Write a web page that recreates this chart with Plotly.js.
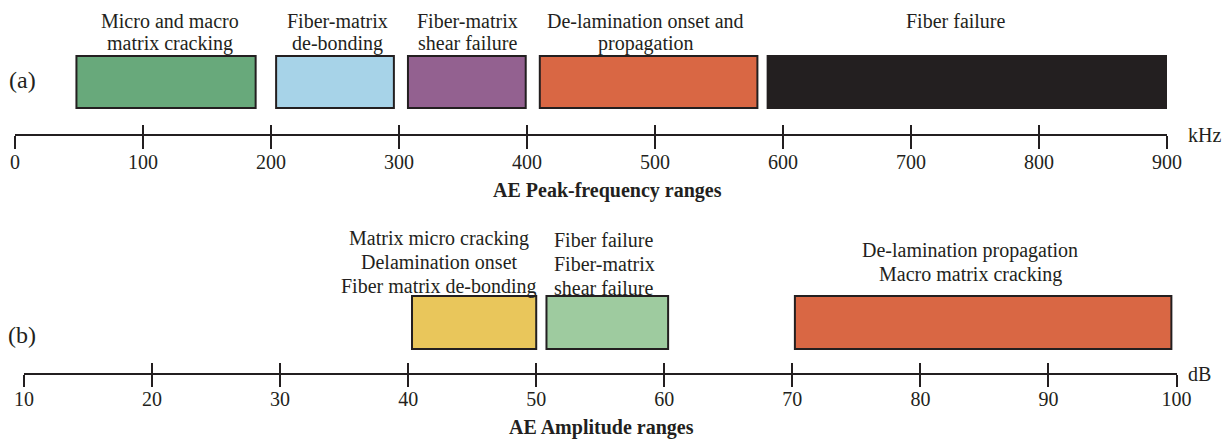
<!DOCTYPE html>
<html>
<head>
<meta charset="utf-8">
<script src="https://cdn.plot.ly/plotly-3.0.1.min.js"></script>
<style>
  html, body { margin: 0; padding: 0; background: #ffffff; }
  #chart { width: 1228px; height: 440px; }
</style>
</head>
<body>
<div id="chart"></div>
<script>
// (a) AE peak-frequency ranges, kHz
const freqTicks = [0, 100, 200, 300, 400, 500, 600, 700, 800, 900];
const freqStart = [48, 204, 307, 410, 588];
const freqEnd = [188, 296, 399, 580, 900];
const freqLabels = [
  ["Micro and macro", "matrix cracking"],
  ["Fiber-matrix", "de-bonding"],
  ["Fiber-matrix", "shear failure"],
  ["De-lamination onset and", "propagation"],
  ["Fiber failure"]
];
const freqColors = ["#68a97b", "#a7d3e8", "#936190", "#d96744", "#231f20"];

// (b) AE amplitude ranges, dB
const ampTicks = [10, 20, 30, 40, 50, 60, 70, 80, 90, 100];
const ampStart = [40.3, 50.8, 70.2];
const ampEnd = [50, 60.3, 99.6];
const ampLabels = [
  ["Matrix micro cracking", "Delamination onset", "Fiber matrix de-bonding"],
  ["Fiber failure", "Fiber-matrix", "shear failure"],
  ["De-lamination propagation", "Macro matrix cracking"]
];
const ampColors = ["#e9c65b", "#9ecb9f", "#d96744"];

const W = 1228, H = 440;
const INK = "#231f20";
const SERIF = "Liberation Serif, Times New Roman, serif";

const axisYTop = 135, axisYBot = 373.5;
const pos = px => 1 - px / H;

// each scale line runs only across its own span of the page
function baseAxis(ticks, pxFrom, pxTo, yPx) {
  return {
    range: [ticks[0], ticks[ticks.length - 1]],
    domain: [pxFrom / W, pxTo / W],
    anchor: "free", position: pos(yPx), side: "bottom",
    showgrid: false, zeroline: false, fixedrange: true,
    tickmode: "array", tickvals: ticks, ticktext: ticks.map(String),
    tickwidth: 2, tickcolor: INK
  };
}
// tick marks only (no line, no labels)
function tickOnly(ticks, pxFrom, pxTo, yPx, dir, len) {
  return Object.assign(baseAxis(ticks, pxFrom, pxTo, yPx), {
    showline: false, showticklabels: false, ticks: dir, ticklen: len
  });
}

const layout = {
  width: W, height: H,
  margin: {l: 0, r: 0, t: 0, b: 0},
  paper_bgcolor: "#ffffff", plot_bgcolor: "rgba(0,0,0,0)",
  showlegend: false,
  font: {family: SERIF, color: INK, size: 20},
  yaxis: {range: [H, 0], visible: false, fixedrange: true, domain: [0, 1]},
  // labelled scale lines
  xaxis: Object.assign(baseAxis(freqTicks, 15, 1167, axisYTop), {
    showline: true, linewidth: 2, linecolor: INK,
    ticks: "outside", ticklen: 9,
    tickfont: {family: SERIF, size: 20, color: INK}
  }),
  xaxis2: Object.assign(baseAxis(ampTicks, 24, 1176.5, axisYBot), {
    showline: true, linewidth: 2, linecolor: INK,
    ticks: "outside", ticklen: 7,
    tickfont: {family: SERIF, size: 20, color: INK}
  }),
  // tick marks crossing each line
  xaxis3: tickOnly(freqTicks, 15, 1167, axisYTop, "inside", 10),
  xaxis4: tickOnly(ampTicks, 24, 1176.5, axisYBot, "inside", 11),
  xaxis5: tickOnly(freqTicks, 15, 1167, axisYTop, "outside", 13),
  xaxis6: tickOnly(ampTicks, 24, 1176.5, axisYBot, "outside", 12),
  shapes: [],
  annotations: []
};

// range boxes
const topBox = [56, 108], botBox = [296, 349];
freqStart.forEach((s, i) => {
  layout.shapes.push({
    type: "rect", xref: "x", yref: "y", x0: s, x1: freqEnd[i], y0: topBox[0], y1: topBox[1],
    fillcolor: freqColors[i], line: {color: INK, width: 2}, layer: "above"
  });
});
ampStart.forEach((s, i) => {
  layout.shapes.push({
    type: "rect", xref: "x2", yref: "y", x0: s, x1: ampEnd[i], y0: botBox[0], y1: botBox[1],
    fillcolor: ampColors[i], line: {color: INK, width: 2}, layer: "above"
  });
});

function txt(text, xref, x, y, opts) {
  return Object.assign({
    text: text, xref: xref, yref: "y", x: x, y: y,
    xanchor: "center", yanchor: "middle", showarrow: false,
    font: {family: SERIF, size: 20, color: INK}
  }, opts || {});
}

// labels over the boxes, one annotation per line
const freqShift = [4, 2, 1, -3, -11];
freqLabels.forEach((lines, i) => {
  const mid = (freqStart[i] + freqEnd[i]) / 2;
  lines.forEach((line, j) => {
    layout.annotations.push(txt(line, "x", mid, 21 + j * 22, {xshift: freqShift[i]}));
  });
});
const ampShift = [-35, -3, -13];
const ampFirstLine = [238, 240, 250];
ampLabels.forEach((lines, i) => {
  const mid = (ampStart[i] + ampEnd[i]) / 2;
  lines.forEach((line, j) => {
    layout.annotations.push(txt(line, "x2", mid, ampFirstLine[i] + j * 24, {xshift: ampShift[i]}));
  });
});

// panel tags, units and titles
layout.annotations.push(
  txt("(a)", "paper", 22 / W, 80, {font: {family: SERIF, size: 24, color: INK}}),
  txt("(b)", "paper", 22 / W, 335, {font: {family: SERIF, size: 24, color: INK}}),
  txt("kHz", "paper", 1186 / W, axisYTop, {xanchor: "left"}),
  txt("dB", "paper", 1186 / W, axisYBot, {xanchor: "left"}),
  txt("<b>AE Peak-frequency ranges</b>", "paper", 607 / W, 190),
  txt("<b>AE Amplitude ranges</b>", "paper", 601 / W, 427)
);

// empty traces so every axis is registered and drawn
const data = ["x", "x2", "x3", "x4", "x5", "x6"].map(ax => (
  {type: "scatter", x: [], y: [], xaxis: ax, yaxis: "y", hoverinfo: "skip"}
));

Plotly.newPlot("chart", data, layout, {staticPlot: true, displayModeBar: false});
</script>
</body>
</html>
